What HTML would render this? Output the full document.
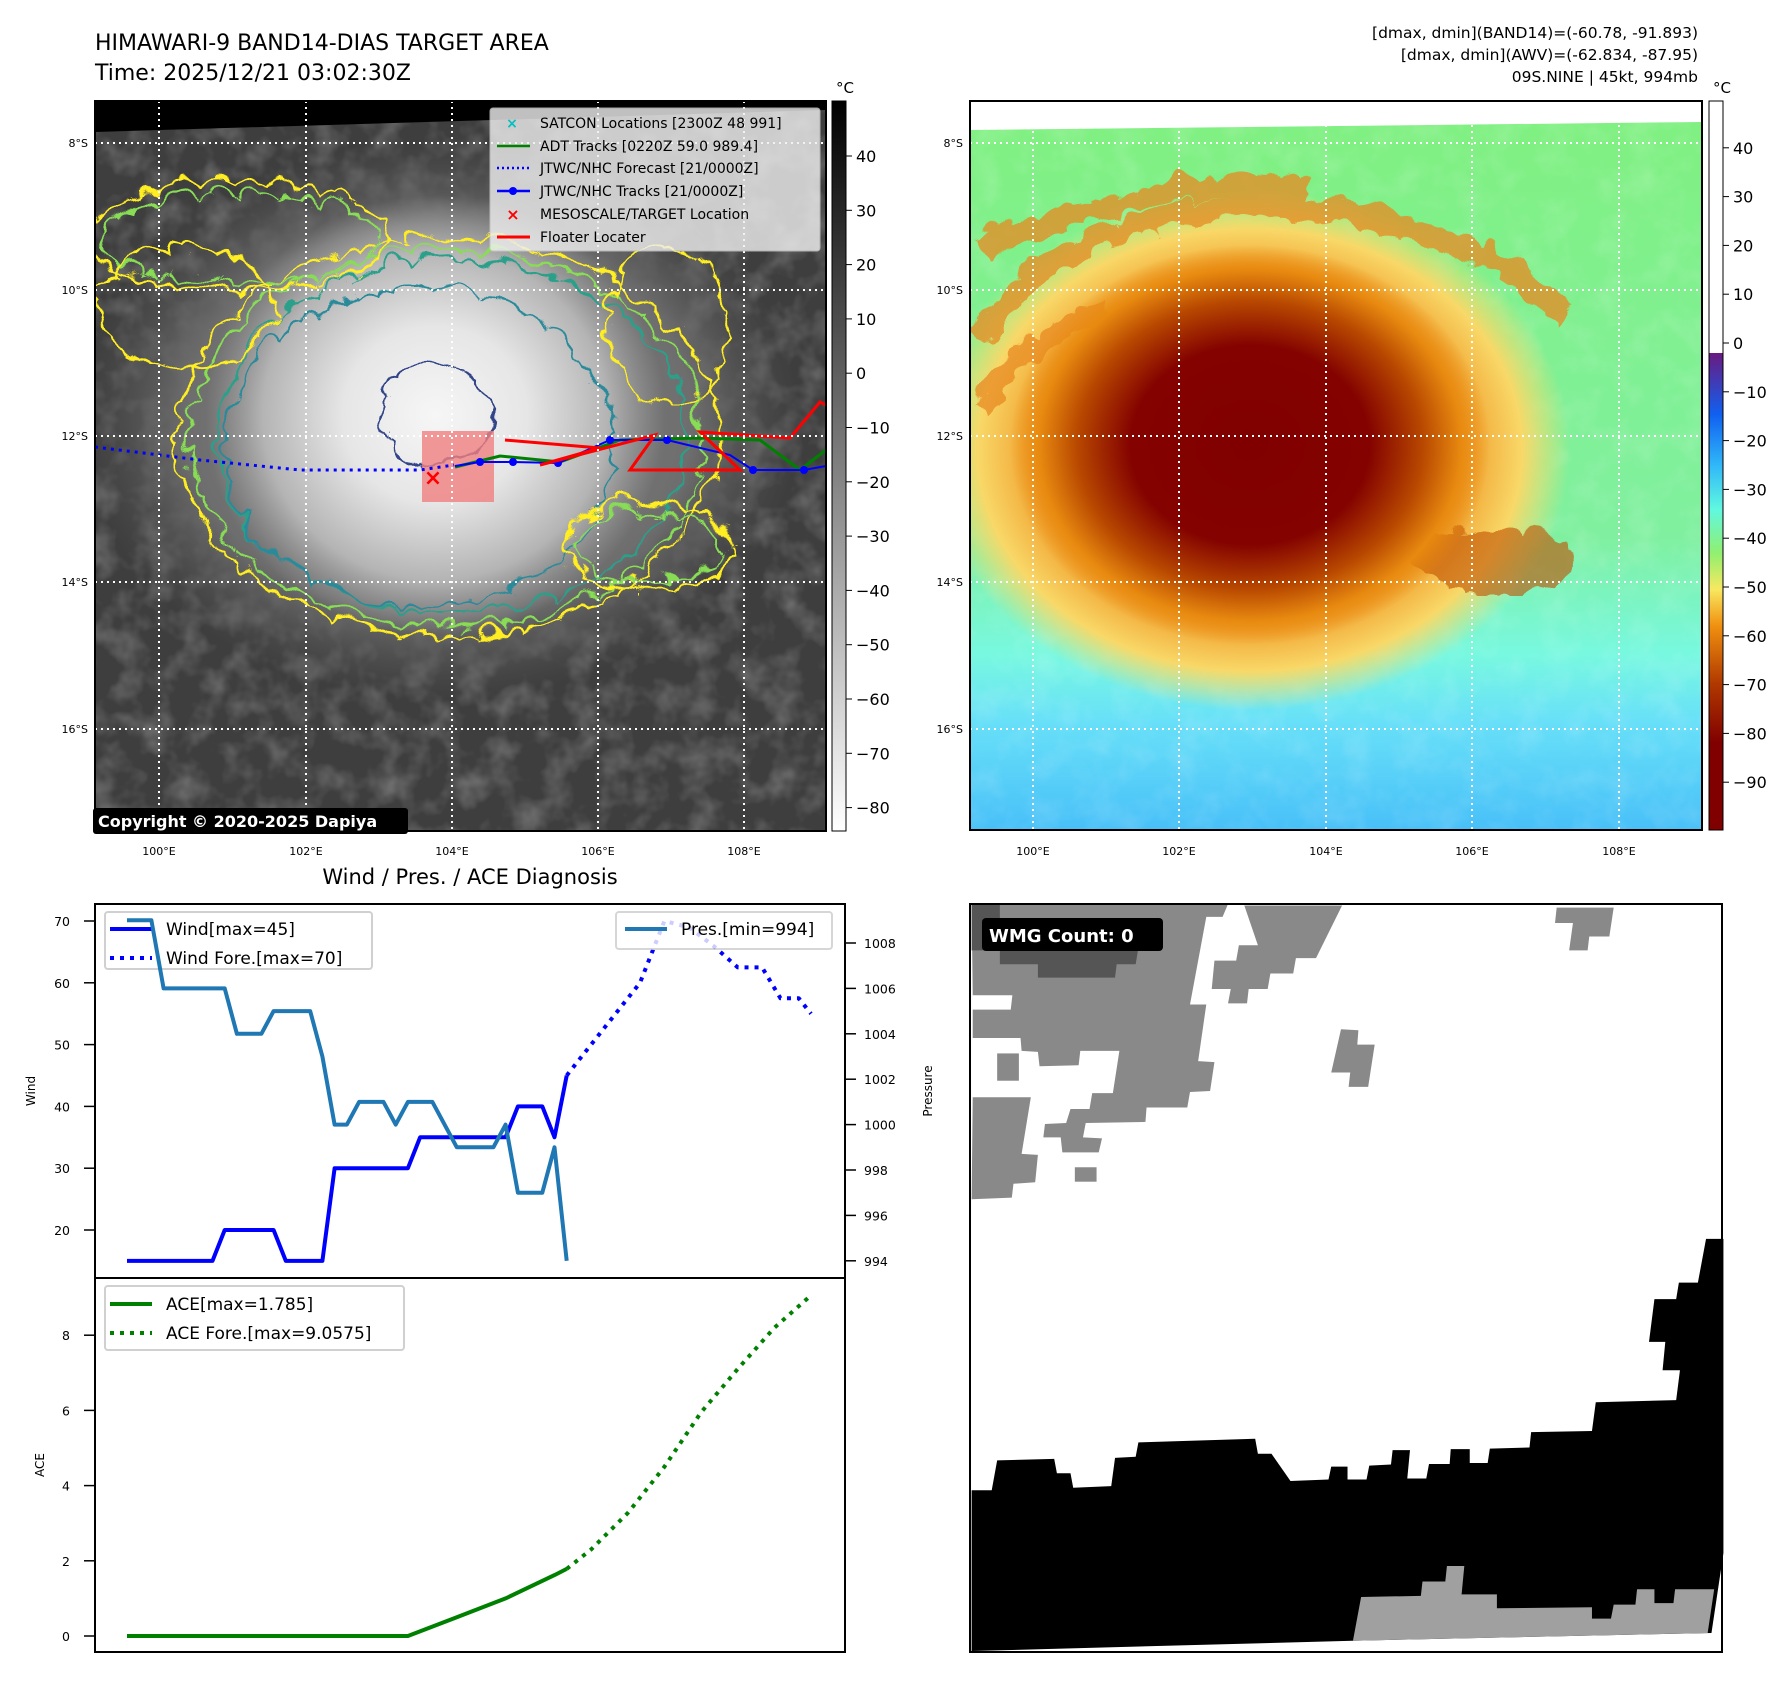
<!DOCTYPE html>
<html><head><meta charset="utf-8"><style>
body{margin:0;background:#fff;}
svg{display:block;font-family:"DejaVu Sans","Liberation Sans",sans-serif;}
</style></head><body>
<svg id="fig" width="1788" height="1690" viewBox="0 0 1788 1690" xmlns="http://www.w3.org/2000/svg">
<defs>
 <filter id="noise" x="0" y="0" width="100%" height="100%">
  <feTurbulence type="fractalNoise" baseFrequency="0.035" numOctaves="3" seed="4"/>
  <feColorMatrix type="matrix" values="0 0 0 0 1  0 0 0 0 1  0 0 0 0 1  0 0 0 1.1 -0.45"/>
 </filter>
 <filter id="wig" x="-10%" y="-10%" width="120%" height="120%">
  <feTurbulence type="turbulence" baseFrequency="0.025" numOctaves="2" seed="7" result="t"/>
  <feDisplacementMap in="SourceGraphic" in2="t" scale="26" xChannelSelector="R" yChannelSelector="G"/>
 </filter>
 <radialGradient id="core" cx="0.5" cy="0.5" r="0.5">
  <stop offset="0" stop-color="#f6f6f6"/><stop offset="0.4" stop-color="#e6e6e6"/><stop offset="0.75" stop-color="#b4b4b4"/><stop offset="1" stop-color="#a0a0a0" stop-opacity="0"/>
 </radialGradient>
 <radialGradient id="outerc" cx="0.5" cy="0.5" r="0.5">
  <stop offset="0" stop-color="#8a8a8a"/><stop offset="0.7" stop-color="#6e6e6e"/><stop offset="1" stop-color="#555" stop-opacity="0"/>
 </radialGradient>
 <radialGradient id="redcore" cx="0.5" cy="0.5" r="0.5">
  <stop offset="0" stop-color="#800000"/><stop offset="0.5" stop-color="#840300"/><stop offset="0.72" stop-color="#b84800"/><stop offset="0.88" stop-color="#e88a10"/><stop offset="1" stop-color="#e88a10" stop-opacity="0"/>
 </radialGradient>
 <radialGradient id="orangering" cx="0.5" cy="0.5" r="0.5">
  <stop offset="0" stop-color="#d86800"/><stop offset="0.65" stop-color="#f09a28"/><stop offset="0.85" stop-color="#f8d868"/><stop offset="1" stop-color="#f8e070" stop-opacity="0"/>
 </radialGradient>
 <linearGradient id="rbg" x1="0" y1="0" x2="0" y2="1">
  <stop offset="0" stop-color="#80f080"/><stop offset="0.6" stop-color="#80f0a0"/><stop offset="0.76" stop-color="#78f8e0"/><stop offset="0.85" stop-color="#68e0f8"/><stop offset="1" stop-color="#48c0f8"/>
 </linearGradient>
 <linearGradient id="cbl" x1="0" y1="0" x2="0" y2="1">
  <stop offset="0" stop-color="#000"/><stop offset="1" stop-color="#fff"/>
 </linearGradient>
 <linearGradient id="cbr" x1="0" y1="0" x2="0" y2="1">
  <stop offset="0" stop-color="#ffffff"/><stop offset="0.3455" stop-color="#ffffff"/>
  <stop offset="0.3456" stop-color="#6a1a80"/><stop offset="0.43" stop-color="#1060f0"/><stop offset="0.5" stop-color="#30b8f8"/>
  <stop offset="0.56" stop-color="#60f8e0"/><stop offset="0.62" stop-color="#90f070"/><stop offset="0.67" stop-color="#f8e860"/>
  <stop offset="0.72" stop-color="#f09010"/><stop offset="0.8" stop-color="#b03800"/><stop offset="0.88" stop-color="#800000"/><stop offset="1" stop-color="#800000"/>
 </linearGradient>
 <clipPath id="clipL"><rect x="95" y="101" width="731" height="730"/></clipPath>
 <clipPath id="clipR"><rect x="970" y="101" width="732" height="729"/></clipPath>
</defs>

<text x="95" y="50" font-size="22">HIMAWARI-9 BAND14-DIAS TARGET AREA</text>
<text x="95" y="80" font-size="22">Time: 2025/12/21 03:02:30Z</text>
<g font-size="15.5" text-anchor="end">
 <text x="1698" y="38">[dmax, dmin](BAND14)=(-60.78, -91.893)</text>
 <text x="1698" y="60">[dmax, dmin](AWV)=(-62.834, -87.95)</text>
 <text x="1698" y="82">09S.NINE | 45kt, 994mb</text>
</g>

<!-- LEFT MAP -->
<g clip-path="url(#clipL)">
 <rect x="95" y="101" width="731" height="730" fill="#3e3e3e"/>
 <rect x="95" y="101" width="731" height="730" filter="url(#noise)" opacity="0.45"/>
 <ellipse cx="440" cy="420" rx="360" ry="280" fill="url(#outerc)"/>
 <ellipse cx="435" cy="415" rx="230" ry="220" fill="url(#core)"/>
 <polygon points="95,101 826,101 826,110 95,132" fill="#000"/>
 <g fill="none" stroke-width="2.5" filter="url(#wig)">
  <ellipse cx="440" cy="430" rx="270" ry="200" stroke="#ffee22"/>
  <ellipse cx="440" cy="432" rx="258" ry="190" stroke="#88dd55"/>
  <ellipse cx="445" cy="430" rx="235" ry="178" stroke="#2aa08a"/>
  <ellipse cx="413" cy="440" rx="195" ry="160" stroke="#2a8a9a"/>
  <ellipse cx="429" cy="406" rx="55" ry="50" stroke="#334488"/>
  <ellipse cx="640" cy="540" rx="85" ry="42" stroke="#ffee22"/>
  <ellipse cx="640" cy="540" rx="75" ry="34" stroke="#88dd55"/>
  <ellipse cx="230" cy="230" rx="150" ry="55" stroke="#ffee22"/>
  <ellipse cx="230" cy="232" rx="140" ry="45" stroke="#88dd55"/>
  <ellipse cx="180" cy="300" rx="90" ry="60" stroke="#ffee22"/>
  <ellipse cx="660" cy="320" rx="60" ry="80" stroke="#ffee22"/>
 </g>
 <rect x="422" y="431" width="72" height="71" fill="#f08080" opacity="0.8"/>
 <polyline points="95,447 200,460 300,470 420,470 454,465" fill="none" stroke="#0000ff" stroke-width="3" stroke-dasharray="3,5"/>
 <polyline points="455,467 500,456 560,462 620,440 700,438 760,440 800,470 826,450" fill="none" stroke="#008000" stroke-width="3"/>
 <polyline points="455,466 480,462 513,462 558,463 610,440 667,440 730,455 753,470 804,470 826,466" fill="none" stroke="#0000ff" stroke-width="2"/>
 <g fill="#0000ff"><circle cx="480" cy="462" r="4"/><circle cx="513" cy="462" r="4"/><circle cx="558" cy="463" r="4"/><circle cx="610" cy="440" r="4"/><circle cx="667" cy="440" r="4"/><circle cx="753" cy="470" r="4"/><circle cx="804" cy="470" r="4"/></g>
 <polyline points="505,440 600,448 540,465 655,435 630,470 740,470 700,432 790,438 820,402 826,405" fill="none" stroke="#ff0000" stroke-width="3"/>
 <text x="433" y="485" font-size="22" font-weight="bold" fill="#ff0000" text-anchor="middle">×</text>
 <g stroke="#fff" stroke-width="2" stroke-dasharray="2,4">
  <line x1="159" y1="101" x2="159" y2="831"/><line x1="306" y1="101" x2="306" y2="831"/><line x1="452" y1="101" x2="452" y2="831"/><line x1="598" y1="101" x2="598" y2="831"/><line x1="744" y1="101" x2="744" y2="831"/>
  <line x1="95" y1="143" x2="826" y2="143"/><line x1="95" y1="290" x2="826" y2="290"/><line x1="95" y1="436" x2="826" y2="436"/><line x1="95" y1="582" x2="826" y2="582"/><line x1="95" y1="729" x2="826" y2="729"/>
 </g>
</g>
<rect x="95" y="101" width="731" height="730" fill="none" stroke="#000" stroke-width="2"/>
<g>
 <rect x="490" y="108" width="330" height="143" rx="3" fill="#f0f0f0" opacity="0.8" stroke="#ccc"/>
 <g font-size="14" fill="#000">
  <text x="512" y="128" fill="#00c0c0" font-weight="bold" font-size="14" text-anchor="middle">×</text><text x="540" y="128">SATCON Locations [2300Z 48 991]</text>
  <line x1="497" y1="146" x2="530" y2="146" stroke="#008000" stroke-width="2.5"/><text x="540" y="151">ADT Tracks [0220Z 59.0 989.4]</text>
  <line x1="497" y1="168" x2="530" y2="168" stroke="#0000ff" stroke-width="2.5" stroke-dasharray="2,3"/><text x="540" y="173">JTWC/NHC Forecast [21/0000Z]</text>
  <line x1="497" y1="191" x2="530" y2="191" stroke="#0000ff" stroke-width="2.5"/><circle cx="513" cy="191" r="4" fill="#0000ff"/><text x="540" y="196">JTWC/NHC Tracks [21/0000Z]</text>
  <text x="513" y="220" fill="#ff0000" font-weight="bold" font-size="16" text-anchor="middle">×</text><text x="540" y="219">MESOSCALE/TARGET Location</text>
  <line x1="497" y1="237" x2="530" y2="237" stroke="#ff0000" stroke-width="3"/><text x="540" y="242">Floater Locater</text>
 </g>
</g>
<g>
 <rect x="93" y="808" width="315" height="26" rx="3" fill="#000"/>
 <text x="98" y="827" font-size="16" font-weight="bold" fill="#fff">Copyright © 2020-2025 Dapiya</text>
</g>
<g font-size="11" text-anchor="end">
 <text x="88" y="147">8°S</text><text x="88" y="294">10°S</text><text x="88" y="440">12°S</text><text x="88" y="586">14°S</text><text x="88" y="733">16°S</text>
</g>
<g font-size="11" text-anchor="middle">
 <text x="159" y="855">100°E</text><text x="306" y="855">102°E</text><text x="452" y="855">104°E</text><text x="598" y="855">106°E</text><text x="744" y="855">108°E</text>
</g>
<rect x="832" y="101" width="14" height="730" fill="url(#cbl)" stroke="#000" stroke-width="1"/>
<text x="845" y="93" font-size="15" text-anchor="middle">°C</text>
<g id="cbLticks" font-size="16"></g>

<!-- RIGHT MAP -->
<g clip-path="url(#clipR)">
 <rect x="970" y="101" width="732" height="729" fill="url(#rbg)"/>
 <rect x="970" y="101" width="732" height="729" filter="url(#noise)" opacity="0.25"/>
 <ellipse cx="1250" cy="450" rx="320" ry="260" fill="url(#orangering)"/>
 <g fill="none" stroke="#e88a20" stroke-width="22" opacity="0.75" filter="url(#wig)">
  <path d="M975,330 Q1050,210 1250,200 Q1450,200 1560,310"/>
  <path d="M975,240 Q1150,170 1300,180"/>
  <path d="M975,400 Q1020,330 1100,300"/>
 </g>
 <ellipse cx="1490" cy="555" rx="85" ry="34" fill="#c05000" opacity="0.6" filter="url(#wig)"/>
 <ellipse cx="1250" cy="445" rx="240" ry="200" fill="url(#redcore)"/>
 <polygon points="970,101 1702,101 1702,122 970,130" fill="#fff"/>
 <g stroke="#fff" stroke-width="2" stroke-dasharray="2,4">
  <line x1="1033" y1="101" x2="1033" y2="830"/><line x1="1179" y1="101" x2="1179" y2="830"/><line x1="1326" y1="101" x2="1326" y2="830"/><line x1="1472" y1="101" x2="1472" y2="830"/><line x1="1619" y1="101" x2="1619" y2="830"/>
  <line x1="970" y1="143" x2="1702" y2="143"/><line x1="970" y1="290" x2="1702" y2="290"/><line x1="970" y1="436" x2="1702" y2="436"/><line x1="970" y1="582" x2="1702" y2="582"/><line x1="970" y1="729" x2="1702" y2="729"/>
 </g>
</g>
<rect x="970" y="101" width="732" height="729" fill="none" stroke="#000" stroke-width="2"/>
<g font-size="11" text-anchor="end">
 <text x="963" y="147">8°S</text><text x="963" y="294">10°S</text><text x="963" y="440">12°S</text><text x="963" y="586">14°S</text><text x="963" y="733">16°S</text>
</g>
<g font-size="11" text-anchor="middle">
 <text x="1033" y="855">100°E</text><text x="1179" y="855">102°E</text><text x="1326" y="855">104°E</text><text x="1472" y="855">106°E</text><text x="1619" y="855">108°E</text>
</g>
<rect x="1709" y="101" width="14" height="729" fill="url(#cbr)" stroke="#000" stroke-width="1"/>
<text x="1722" y="93" font-size="15" text-anchor="middle">°C</text>
<g id="cbRticks" font-size="16"></g>

<!-- BOTTOM LEFT CHART -->
<text x="470" y="884" font-size="21" text-anchor="middle">Wind / Pres. / ACE Diagnosis</text>
<g>
 <rect x="105" y="912" width="267" height="57" rx="3" fill="#fff" stroke="#ccc" stroke-width="2" opacity="0.9"/>
 <line x1="110" y1="929" x2="152" y2="929" stroke="#0000ff" stroke-width="4"/><text x="166" y="935" font-size="17">Wind[max=45]</text>
 <line x1="110" y1="958" x2="152" y2="958" stroke="#0000ff" stroke-width="4" stroke-dasharray="4,6"/><text x="166" y="964" font-size="17">Wind Fore.[max=70]</text>
</g>
<g id="chart"></g>
<rect x="95" y="904" width="750" height="374" fill="none" stroke="#000" stroke-width="2"/>
<rect x="95" y="1278" width="750" height="374" fill="none" stroke="#000" stroke-width="2"/>
<text transform="translate(35,1091) rotate(-90)" font-size="12" text-anchor="middle">Wind</text>
<text transform="translate(932,1091) rotate(-90)" font-size="12" text-anchor="middle">Pressure</text>
<text transform="translate(44,1465) rotate(-90)" font-size="12" text-anchor="middle">ACE</text>
<g>
 <rect x="616" y="912" width="216" height="37" rx="3" fill="#fff" stroke="#ccc" stroke-width="2" opacity="0.8"/>
 <line x1="625" y1="929" x2="667" y2="929" stroke="#1f77b4" stroke-width="4"/><text x="681" y="935" font-size="17">Pres.[min=994]</text>
</g>
<g>
 <rect x="105" y="1286" width="299" height="64" rx="3" fill="#fff" stroke="#ccc" stroke-width="2" opacity="0.9"/>
 <line x1="110" y1="1304" x2="152" y2="1304" stroke="#008000" stroke-width="4"/><text x="166" y="1310" font-size="17">ACE[max=1.785]</text>
 <line x1="110" y1="1333" x2="152" y2="1333" stroke="#008000" stroke-width="4" stroke-dasharray="4,6"/><text x="166" y="1339" font-size="17">ACE Fore.[max=9.0575]</text>
</g>

<!-- BOTTOM RIGHT WMG -->
<g>
 <rect x="970" y="904" width="752" height="748" fill="#fff"/>
 <g transform="translate(970,904) scale(0.5432,0.5152) translate(-55,-45)">
  <polygon fill="#898989" points="58,45 530,45 520,70 490,70 460,240 490,240 475,350 505,352 497,408 460,410 455,440 380,440 378,468 268,470 263,498 298,500 292,527 225,527 222,498 190,498 193,472 232,470 240,443 275,443 280,412 318,412 330,330 258,330 255,358 183,360 180,332 150,330 148,305 60,305 60,250 130,250 133,222 60,222"/>
  <polygon fill="#898989" points="60,420 167,420 150,530 180,532 175,585 135,588 132,615 58,618"/>
  <rect fill="#898989" x="105" y="335" width="40" height="53"/>
  <rect fill="#898989" x="248" y="556" width="40" height="28"/>
  <polygon fill="#555" points="58,45 110,45 110,130 365,130 360,162 325,162 322,188 180,188 180,162 110,162 110,135 58,135"/>
  <polygon fill="#898989" points="560,48 740,48 692,150 655,150 650,180 608,180 603,210 568,210 565,238 530,238 535,210 500,210 505,155 545,155 550,125 585,125"/>
  <polygon fill="#898989" points="1135,52 1240,52 1232,108 1195,108 1192,135 1158,135 1165,82 1132,82"/>
  <polygon fill="#898989" points="738,288 770,290 768,318 800,318 788,400 752,400 755,372 720,372"/>
  <polygon fill="#000" points="58,1183 95,1183 105,1125 210,1122 215,1150 240,1150 245,1178 315,1175 322,1120 360,1118 365,1090 580,1083 585,1112 610,1112 645,1165 715,1162 720,1137 750,1137 750,1162 785,1162 790,1135 830,1133 833,1105 865,1105 860,1160 895,1160 900,1132 938,1132 940,1103 975,1103 975,1130 1008,1130 1012,1102 1085,1100 1088,1070 1200,1068 1207,1012 1355,1008 1362,950 1330,950 1335,895 1305,895 1315,812 1355,812 1360,780 1395,780 1410,695 1442,695 1442,1305 1420,1460 760,1475 58,1495"/>
  <polygon fill="#a0a0a0" points="760,1475 775,1390 885,1388 888,1360 930,1360 933,1330 965,1330 960,1385 1025,1385 1025,1412 1200,1410 1200,1432 1235,1432 1240,1405 1280,1405 1283,1375 1315,1375 1315,1402 1350,1402 1353,1375 1425,1375 1413,1460"/>
 </g>
 <rect x="982" y="918" width="181" height="33" rx="4" fill="#000"/>
 <text x="989" y="942" font-size="18" font-weight="bold" fill="#fff">WMG Count: 0</text>
 <rect x="970" y="904" width="752" height="748" fill="none" stroke="#000" stroke-width="2"/>
</g>
</svg>
<script>
const NS='http://www.w3.org/2000/svg';
const obsIdx=[0,7,8,12,13,16,17,23,24,31,32,34,35,36];
const windObs=[15,15,20,20,15,15,30,30,35,35,40,40,35,45];
const foreIdx=[36,38,40,42,44,46,48,50,52,53.5,55,56];
const windFore=[45,50,55,60,70,69,66,62.5,62.5,57.5,57.5,55];
const presIdx=[0,2,3,8,9,11,12,15,16,17,18,19,21,22,23,25,27,30,31,32,34,35,36];
const presVals=[1009,1009,1006,1006,1004,1004,1005,1005,1003,1000,1000,1001,1001,1000,1001,1001,999,999,1000,997,997,999,994];
const aceIdx=[0,23,27,31,35,36];
const aceVals=[0,0,0.5,1.0,1.62,1.785];
const aceForeIdx=[36,38,41,44,47,50,53,56];
const aceFore=[1.785,2.3,3.27,4.5,5.95,7.1,8.2,9.0575];
const windTicks=[20,30,40,50,60,70];
const presTicks=[994,996,998,1000,1002,1004,1006,1008];
const aceTicks=[0,2,4,6,8];
const cbLTicks=[40,30,20,10,0,-10,-20,-30,-40,-50,-60,-70,-80];
const cbRTicks=[40,30,20,10,0,-10,-20,-30,-40,-50,-60,-70,-80,-90];

const X=i=>127+i*(811-127)/56;
const YW=v=>921+(70-v)*6.18;
const YP=p=>943+(1008-p)*22.7;
const YA=a=>1636-a*37.6;
const chart=document.getElementById('chart');
function mk(tag,attrs,parent){const e=document.createElementNS(NS,tag);for(const k in attrs)e.setAttribute(k,attrs[k]);(parent||chart).appendChild(e);return e;}
function line(xs,ys,fx,fy,color,dash,name){
  const pts=xs.map((x,i)=>fx(x).toFixed(1)+','+fy(ys[i]).toFixed(1)).join(' ');
  const a={points:pts,fill:'none',stroke:color,'stroke-width':4,'stroke-linejoin':'round'};
  if(dash)a['stroke-dasharray']='4,6';
  const p=mk('polyline',a);
  
  
}
line(obsIdx,windObs,X,YW,'#0000ff',false,'wind-line');
line(foreIdx,windFore,X,YW,'#0000ff',true,'wind-forecast-line');
line(presIdx,presVals,X,YP,'#1f77b4',false,'pressure-line');
line(aceIdx,aceVals,X,YA,'#008000',false,'ace-line');
line(aceForeIdx,aceFore,X,YA,'#008000',true,'ace-forecast-line');
function ticks(vals,fy,side){
  vals.forEach(v=>{
    const y=fy(v);
    if(side==='l'){mk('line',{x1:84,x2:95,y1:y,y2:y,stroke:'#000','stroke-width':1.5});
      const t=mk('text',{x:70,y:y+5,'font-size':12.5,'text-anchor':'end'});t.textContent=v;
      
      }
    else{mk('line',{x1:845,x2:856,y1:y,y2:y,stroke:'#000','stroke-width':1.5});
      const t=mk('text',{x:864,y:y+5,'font-size':12.5});t.textContent=v;
      
      }
  });
}
ticks(windTicks,YW,'l');ticks(presTicks,YP,'r');ticks(aceTicks,YA,'l');
const gL=document.getElementById('cbLticks');
cbLTicks.forEach(v=>{const y=156+(40-v)*5.43;mk('line',{x1:846,x2:852,y1:y,y2:y,stroke:'#000'},gL);
 const t=mk('text',{x:856,y:y+6},gL);t.textContent=v<0?'\u2212'+(-v):v;
 
 });
const gR=document.getElementById('cbRticks');
cbRTicks.forEach(v=>{const y=343+(0-v)*4.88;mk('line',{x1:1723,x2:1729,y1:y,y2:y,stroke:'#000'},gR);
 const t=mk('text',{x:1733,y:y+6},gR);t.textContent=v<0?'\u2212'+(-v):v;
 
 });
</script>
</body></html>
